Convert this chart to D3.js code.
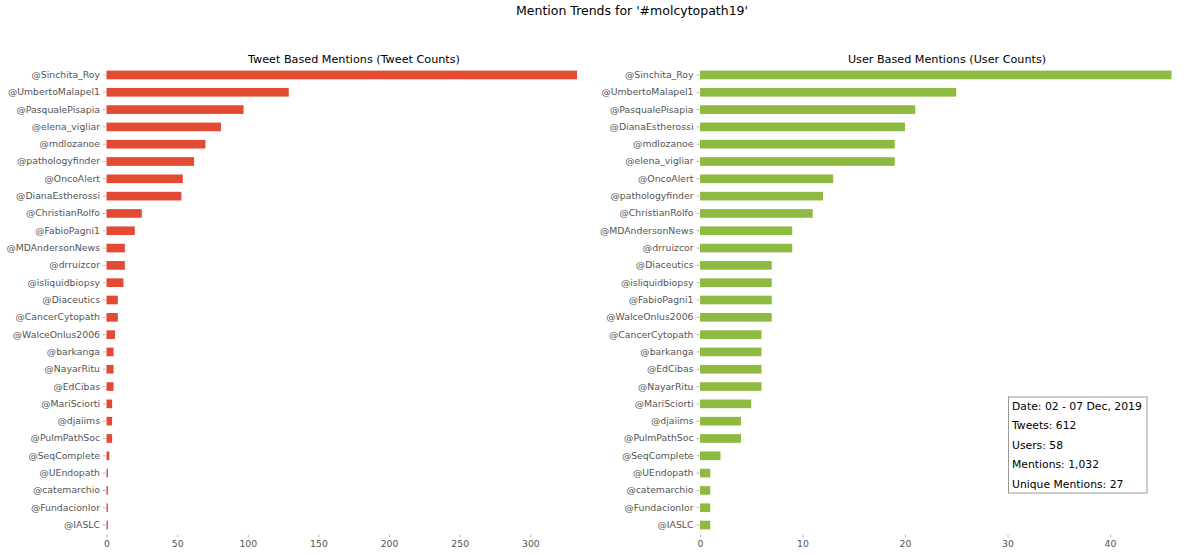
<!DOCTYPE html>
<html>
<head>
<meta charset="utf-8">
<script src="https://cdn.jsdelivr.net/npm/d3@7"></script>
<style>
  html, body { margin: 0; padding: 0; background: #fff; }
  svg { display: block; font-family: "DejaVu Sans", sans-serif; }
</style>
</head>
<body>
<svg id="chart" width="1200" height="555"></svg>
<script>
// ---- data ----
const tweetUsers = ["@Sinchita_Roy","@UmbertoMalapel1","@PasqualePisapia","@elena_vigliar","@mdlozanoe","@pathologyfinder","@OncoAlert","@DianaEstherossi","@ChristianRolfo","@FabioPagni1","@MDAndersonNews","@drruizcor","@isliquidbiopsy","@Diaceutics","@CancerCytopath","@WalceOnlus2006","@barkanga","@NayarRitu","@EdCibas","@MariSciorti","@djaiims","@PulmPathSoc","@SeqComplete","@UEndopath","@catemarchio","@FundacionIor","@IASLC"];
const tweetCounts = [333,129,97,81,70,62,54,53,25,20,13,13,12,8,8,6,5,5,5,4,4,4,2,1,1,1,1];

const userUsers = ["@Sinchita_Roy","@UmbertoMalapel1","@PasqualePisapia","@DianaEstherossi","@mdlozanoe","@elena_vigliar","@OncoAlert","@pathologyfinder","@ChristianRolfo","@MDAndersonNews","@drruizcor","@Diaceutics","@isliquidbiopsy","@FabioPagni1","@WalceOnlus2006","@CancerCytopath","@barkanga","@EdCibas","@NayarRitu","@MariSciorti","@djaiims","@PulmPathSoc","@SeqComplete","@UEndopath","@catemarchio","@FundacionIor","@IASLC"];
const userCounts = [46,25,21,20,19,19,13,12,11,9,9,7,7,7,7,6,6,6,6,5,4,4,2,1,1,1,1];

const leftTicks = [0,50,100,150,200,250,300];
const rightTicks = [0,10,20,30,40];

const mainTitle = "Mention Trends for '#molcytopath19'";
const leftTitle = "Tweet Based Mentions (Tweet Counts)";
const rightTitle = "User Based Mentions (User Counts)";
const infoLines = ["Date: 02 - 07 Dec, 2019","Tweets: 612","Users: 58","Mentions: 1,032","Unique Mentions: 27"];

// ---- drawing ----
const svg = d3.select("#chart");
const plotTop = 66.3, plotBottom = 533.7;

svg.append("text")
  .attr("x", 632).attr("y", 15)
  .attr("text-anchor", "middle")
  .attr("font-size", "12.5px")
  .attr("fill", "#000")
  .text(mainTitle);

function panel(cats, vals, ticks, x0, x1, color, title, titleX) {
  const g = svg.append("g");
  const x = d3.scaleLinear().domain([0, d3.max(vals)]).range([x0, x1]);
  const y = d3.scaleBand().domain(cats).range([plotTop, plotBottom])
    .paddingInner(0.5).paddingOuter(0.25);

  g.selectAll("rect.bar").data(vals).enter().append("rect")
    .attr("class", "bar")
    .attr("x", x(0))
    .attr("y", (d, i) => y(cats[i]))
    .attr("width", d => x(d) - x(0))
    .attr("height", y.bandwidth())
    .attr("fill", color);

  const ya = g.append("g")
    .attr("transform", `translate(${x0 - 1},0)`)
    .call(d3.axisLeft(y).tickSize(2.5).tickPadding(3));
  ya.select(".domain").remove();
  ya.selectAll(".tick line").attr("stroke", "#b0b0b0");
  ya.selectAll(".tick text").attr("fill", "#555").attr("font-size", "9.3px")
    .attr("font-family", "DejaVu Sans, sans-serif");

  const xa = g.append("g")
    .attr("transform", `translate(0,${plotBottom + 1})`)
    .call(d3.axisBottom(x).tickValues(ticks).tickSize(2.5).tickPadding(3).tickFormat(d3.format("d")));
  xa.select(".domain").remove();
  xa.selectAll(".tick line").attr("stroke", "#b0b0b0");
  xa.selectAll(".tick text").attr("fill", "#555").attr("font-size", "9.3px")
    .attr("font-family", "DejaVu Sans, sans-serif");

  g.append("text")
    .attr("x", titleX).attr("y", 63)
    .attr("text-anchor", "middle")
    .attr("font-size", "11.2px")
    .attr("fill", "#000")
    .text(title);
  return {x, y};
}

panel(tweetUsers, tweetCounts, leftTicks, 106.5, 577, "#E24A33", leftTitle, 354);
panel(userUsers, userCounts, rightTicks, 700, 1171.5, "#8EBA42", rightTitle, 947);

// info box
const box = svg.append("g");
box.append("rect")
  .attr("x", 1008.5).attr("y", 397)
  .attr("width", 138.5).attr("height", 96)
  .attr("fill", "#fff").attr("stroke", "#999").attr("stroke-width", 1);
box.selectAll("text").data(infoLines).enter().append("text")
  .attr("x", 1012)
  .attr("y", (d, i) => 410 + i * 19.4)
  .attr("font-size", "10.8px")
  .attr("fill", "#000")
  .text(d => d);
</script>
</body>
</html>
